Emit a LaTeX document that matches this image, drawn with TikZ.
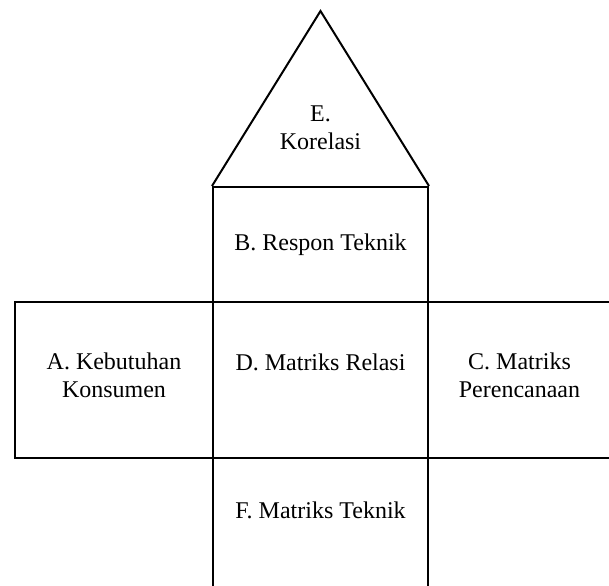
\documentclass[tikz,border=0pt]{standalone}
\usepackage{fontspec}
\setmainfont{Liberation Serif}

\begin{document}
\begin{tikzpicture}[
      x=0.5pt, y=-0.5pt,
      kotak/.style={rectangle, draw, line width=1pt, inner sep=0pt},
      teks/.style={align=center, font=\fontsize{12}{14}\selectfont, inner sep=0pt}
    ]
    \clip (0,0) rectangle (609,585);
    \node[kotak, minimum width=107.5pt, minimum height=57.5pt] (B) at (320.5,244.5) {};
    \node[kotak, minimum width=107.5pt, minimum height=78pt] (D) at (320.5,380) {};
    \node[kotak, minimum width=99pt, minimum height=78pt] (A) at (114,380) {};
    \node[kotak, minimum width=91.5pt, minimum height=78pt] (C) at (519.5,380) {};
    \node[kotak, minimum width=107.5pt, minimum height=71pt] (F) at (320.5,529) {};
    \coordinate (puncak) at (320.5,11);
    \draw[line width=1pt, line join=miter] (B.north west) -- (puncak) -- (B.north east);
    \node[teks] (tE) at (320.5,128) {E.\\Korelasi};
    \node[teks, anchor=base] (tB) at (320.5,250) {B. Respon Teknik};
    \node[teks] (tA) at (114,375) {A. Kebutuhan\\Konsumen};
    \node[teks, anchor=base] (tD) at (320.5,370) {D. Matriks Relasi};
    \node[teks] (tC) at (519.5,375) {C. Matriks\\Perencanaan};
    \node[teks, anchor=base] (tF) at (320.5,518) {F. Matriks Teknik};
    \end{tikzpicture}
\end{document}
